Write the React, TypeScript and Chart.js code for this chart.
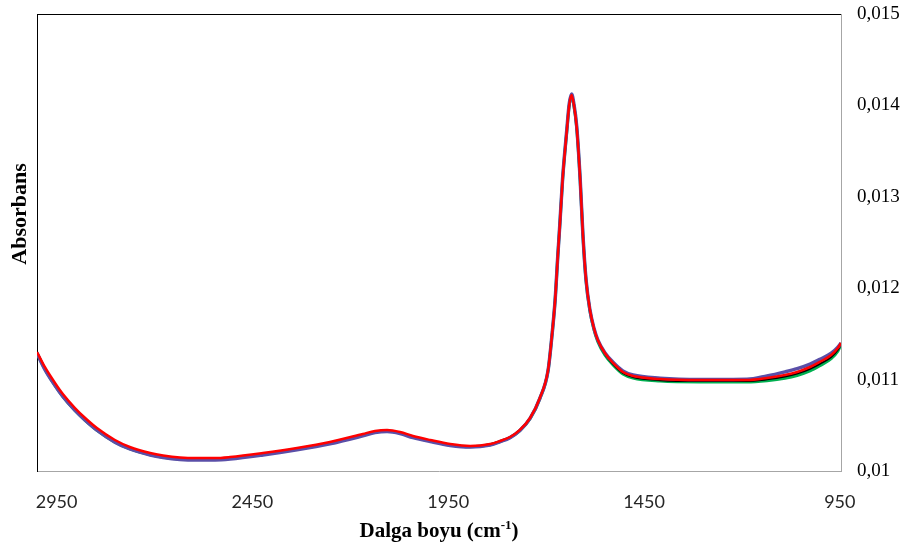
import React, { useEffect, useRef } from "react";
import { Chart, registerables } from "chart.js";

Chart.register(...registerables);

const WAVENUMBERS = [
  3000, 2980, 2954, 2934, 2903, 2877, 2847, 2801, 2763, 2711, 2678, 2635, 2591, 2545, 2507, 2423,
  2336, 2252, 2168, 2137, 2106, 2073, 2040, 1996, 1945, 1894, 1843, 1818, 1792, 1767, 1741, 1716,
  1695, 1685, 1677, 1670, 1665, 1658, 1647, 1641, 1635, 1629, 1622, 1613, 1606, 1598, 1588, 1578,
  1568, 1550, 1529, 1504, 1478, 1409, 1307, 1187, 1136, 1090, 1059, 1026, 1001, 972, 955, 947,
];

const SERIES_RED = [
  0.011302, 0.011138, 0.010963, 0.010842, 0.010689, 0.01058, 0.01047, 0.010339, 0.010263, 0.010197,
  0.01017, 0.010148, 0.010142, 0.010142, 0.010153, 0.010197, 0.010252, 0.010317, 0.010405, 0.010438,
  0.010449, 0.010427, 0.010383, 0.010339, 0.010295, 0.010274, 0.010295, 0.010328, 0.010372, 0.010449,
  0.01058, 0.010799, 0.011105, 0.011488, 0.011871, 0.012363, 0.012691, 0.013184, 0.013731, 0.014004,
  0.014114, 0.014004, 0.013764, 0.013184, 0.012582, 0.01209, 0.011761, 0.011565, 0.011433, 0.011291,
  0.011182, 0.011083, 0.011039, 0.011007, 0.010996, 0.010996, 0.011018, 0.01105, 0.011083, 0.011138,
  0.011193, 0.011269, 0.011346, 0.0114,
];

const SERIES_BLUE = [
  0.01129, 0.011112, 0.010936, 0.010816, 0.010664, 0.010556, 0.010447, 0.010316, 0.010241, 0.010175,
  0.010148, 0.010126, 0.01012, 0.01012, 0.01013, 0.010175, 0.010232, 0.010298, 0.010385, 0.01042,
  0.010432, 0.01041, 0.010365, 0.010322, 0.01028, 0.010262, 0.010285, 0.01032, 0.010365, 0.010442,
  0.010575, 0.010795, 0.0111, 0.011485, 0.01187, 0.012365, 0.012695, 0.01319, 0.01374, 0.014015,
  0.014125, 0.014015, 0.013775, 0.01319, 0.012585, 0.01209, 0.01176, 0.011565, 0.011435, 0.011295,
  0.01119, 0.011095, 0.01105, 0.011015, 0.011, 0.011003, 0.01104, 0.011085, 0.01112, 0.01117,
  0.011222, 0.011288, 0.011355, 0.0114,
];

const SERIES_GREEN = [
  0.011288, 0.011116, 0.010935, 0.010814, 0.010661, 0.010554, 0.010446, 0.010316, 0.010243, 0.010177,
  0.010151, 0.01013, 0.010126, 0.010127, 0.010138, 0.010183, 0.01024, 0.010304, 0.010392, 0.010426,
  0.010438, 0.010416, 0.010372, 0.010328, 0.010285, 0.010266, 0.010288, 0.010322, 0.010366, 0.010442,
  0.010572, 0.010792, 0.011097, 0.011482, 0.011866, 0.012361, 0.01269, 0.01318, 0.013725, 0.013995,
  0.014105, 0.013995, 0.01376, 0.01318, 0.012575, 0.01208, 0.011748, 0.01155, 0.011416, 0.01127,
  0.01116, 0.011062, 0.011018, 0.010984, 0.010974, 0.010974, 0.010988, 0.011014, 0.011045, 0.011095,
  0.011152, 0.01123, 0.011312, 0.01138,
];

const SERIES_BLACK = [
  0.011295, 0.011121, 0.010945, 0.010826, 0.010674, 0.010566, 0.010457, 0.010325, 0.010251, 0.010186,
  0.010159, 0.010137, 0.010132, 0.010132, 0.010143, 0.010187, 0.010243, 0.010308, 0.010396, 0.01043,
  0.010441, 0.010419, 0.010375, 0.010331, 0.010288, 0.010268, 0.01029, 0.010323, 0.010367, 0.010445,
  0.010576, 0.010795, 0.0111, 0.011484, 0.011868, 0.012362, 0.01269, 0.013182, 0.013728, 0.014,
  0.01411, 0.014, 0.013762, 0.013182, 0.012578, 0.012085, 0.011755, 0.011558, 0.011424, 0.01128,
  0.01117, 0.011072, 0.011028, 0.010994, 0.010984, 0.010984, 0.011003, 0.011033, 0.011065, 0.011118,
  0.011172, 0.011248, 0.011326, 0.01139,
];

const X_TICKS = [2950, 2450, 1950, 1450, 950];
const Y_TICKS = [0.01, 0.011, 0.012, 0.013, 0.014, 0.015];
const X_TITLE = "Dalga boyu (cm";
const X_TITLE_SUP = "-1";
const Y_TITLE = "Absorbans";

const toPoints = (vals: number[]) => WAVENUMBERS.map((x, i) => ({ x, y: vals[i] }));

const framePlugin = {
  id: "frameAndTitles",
  afterDraw(chart: any) {
    const { ctx, chartArea } = chart;
    ctx.save();
    ctx.strokeStyle = "#000000";
    ctx.lineWidth = 1;
    ctx.beginPath();
    ctx.moveTo(chartArea.left, chartArea.top + 0.5);
    ctx.lineTo(chartArea.right, chartArea.top + 0.5);
    ctx.stroke();

    ctx.fillStyle = "#000000";
    ctx.font = "bold 22px 'Liberation Serif', 'Times New Roman', serif";
    ctx.textAlign = "center";
    ctx.textBaseline = "middle";
    ctx.translate(20, 214);
    ctx.rotate(-Math.PI / 2);
    ctx.fillText(Y_TITLE, 0, 0);
    ctx.restore();

    ctx.save();
    ctx.fillStyle = "#000000";
    const mainFont = "bold 21px 'Liberation Serif', 'Times New Roman', serif";
    const supFont = "bold 13px 'Liberation Serif', 'Times New Roman', serif";
    ctx.font = mainFont;
    const w1 = ctx.measureText(X_TITLE).width;
    const w3 = ctx.measureText(")").width;
    ctx.font = supFont;
    const w2 = ctx.measureText(X_TITLE_SUP).width;
    const total = w1 + w2 + w3;
    const cx = (chartArea.left + chartArea.right) / 2;
    let x = cx - total / 2;
    const baseY = 537;
    ctx.textAlign = "left";
    ctx.textBaseline = "alphabetic";
    ctx.font = mainFont;
    ctx.fillText(X_TITLE, x, baseY);
    x += w1;
    ctx.font = supFont;
    ctx.fillText(X_TITLE_SUP, x, baseY - 8);
    x += w2;
    ctx.font = mainFont;
    ctx.fillText(")", x, baseY);
    ctx.restore();
  },
};

export default function App() {
  const canvasRef = useRef<HTMLCanvasElement | null>(null);

  useEffect(() => {
    const canvas = canvasRef.current;
    if (!canvas) return;
    const chart = new Chart(canvas, {
      type: "line",
      data: {
        datasets: [
          { label: "red", data: toPoints(SERIES_RED), borderColor: "#FF0000", borderWidth: 2.5 },
          { label: "blue", data: toPoints(SERIES_BLUE), borderColor: "#5A4FA8", borderWidth: 3.5 },
          { label: "black", data: toPoints(SERIES_BLACK), borderColor: "#000000", borderWidth: 2 },
          { label: "green", data: toPoints(SERIES_GREEN), borderColor: "#00B050", borderWidth: 3 },
        ],
      },
      options: {
        responsive: false,
        animation: false,
        devicePixelRatio: 1,
        layout: { padding: { top: 14, left: 0, right: 0, bottom: 0 } },
        elements: {
          point: { radius: 0 },
          line: { cubicInterpolationMode: "monotone", fill: false },
        },
        plugins: { legend: { display: false }, tooltip: { enabled: false } },
        scales: {
          x: {
            type: "linear",
            position: "bottom",
            reverse: true,
            min: 947,
            max: 3000,
            afterBuildTicks: (s: any) => {
              s.ticks = X_TICKS.map((v) => ({ value: v }));
            },
            afterFit: (s: any) => {
              s.height = 73;
              s.paddingLeft = 0;
              s.paddingRight = 0;
            },
            grid: { display: false, drawTicks: false },
            border: { display: true, color: "#A6A6A6", width: 1 },
            ticks: {
              autoSkip: false,
              maxRotation: 0,
              padding: 20,
              color: "#262626",
              font: { family: "Lato, 'Open Sans', sans-serif", size: 18 },
              callback: (v: any) => String(v),
            },
          },
          yl: {
            type: "linear",
            position: "left",
            min: 0.01,
            max: 0.015,
            afterFit: (s: any) => {
              s.width = 37;
              s.paddingTop = 0;
              s.paddingBottom = 0;
            },
            grid: { display: false, drawTicks: false },
            border: { display: true, color: "#000000", width: 1 },
            ticks: { display: false },
          },
          y: {
            type: "linear",
            position: "right",
            min: 0.01,
            max: 0.015,
            afterBuildTicks: (s: any) => {
              s.ticks = Y_TICKS.map((v) => ({ value: v }));
            },
            afterFit: (s: any) => {
              s.width = 64;
              s.paddingTop = 0;
              s.paddingBottom = 0;
            },
            grid: { display: false, drawTicks: false },
            border: { display: true, color: "#A6A6A6", width: 1 },
            ticks: {
              padding: 16,
              color: "#000000",
              font: { family: "'Liberation Serif', 'Times New Roman', serif", size: 19 },
              callback: (v: any) => String(Number(Number(v).toFixed(3))).replace(".", ","),
            },
          },
        },
      },
      plugins: [framePlugin],
    });
    return () => chart.destroy();
  }, []);

  return (
    <div style={{ position: "fixed", left: 0, top: 0, width: 905, height: 544, background: "#fff" }}>
      <canvas ref={canvasRef} width={905} height={544} style={{ width: 905, height: 544 }} />
    </div>
  );
}
